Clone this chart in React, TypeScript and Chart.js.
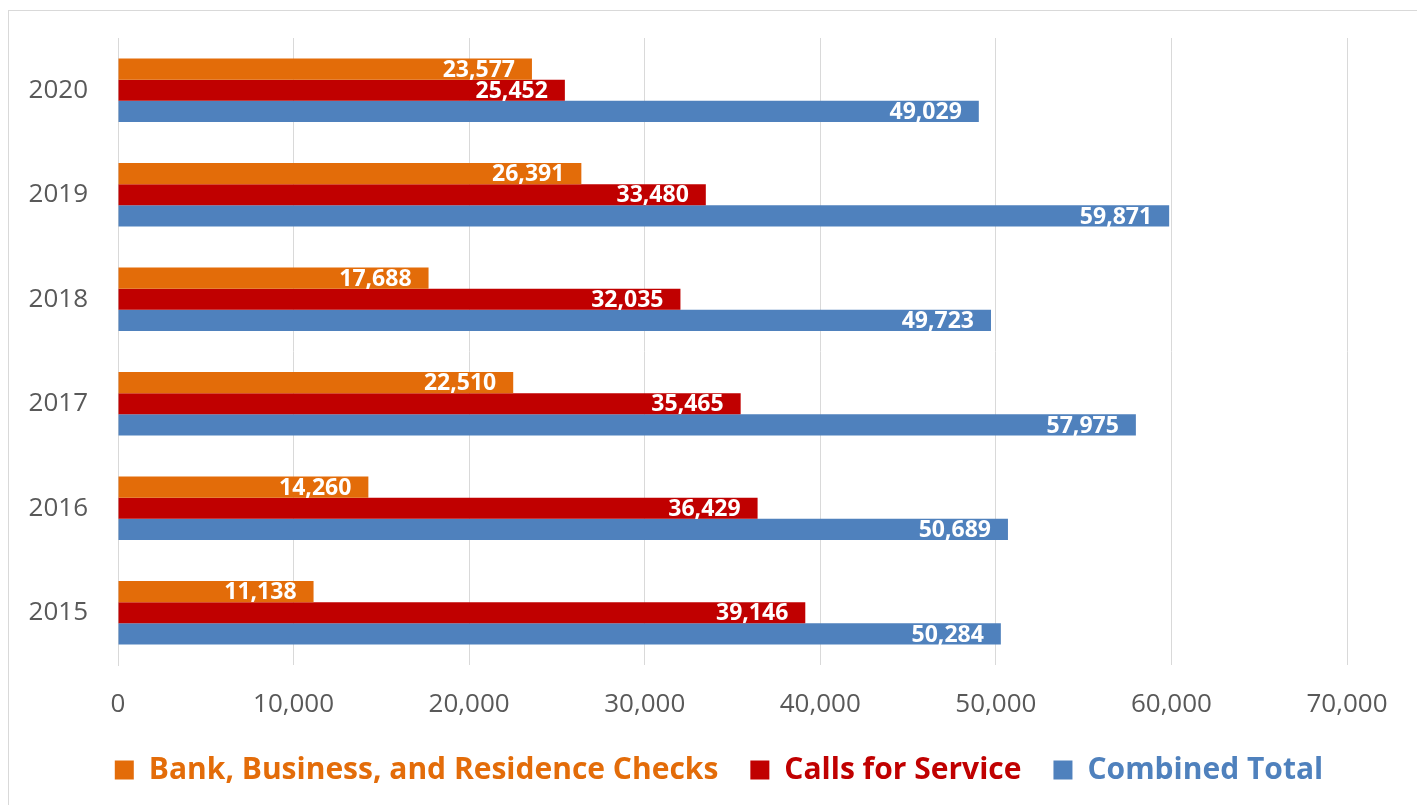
import React, { useEffect, useRef } from "react";
import { Chart, registerables } from "chart.js";

Chart.register(...registerables);

const years = ["2020", "2019", "2018", "2017", "2016", "2015"];
const bankChecks = [23577, 26391, 17688, 22510, 14260, 11138];
const callsForService = [25452, 33480, 32035, 35465, 36429, 39146];
const combinedTotal = [49029, 59871, 49723, 57975, 50689, 50284];
const seriesNames = ["Bank, Business, and Residence Checks", "Calls for Service", "Combined Total"];
const seriesColors = ["#E36C09", "#C00000", "#4F81BD"];
const xTicks = [0, 10000, 20000, 30000, 40000, 50000, 60000, 70000];

const FONT = "'Open Sans', 'Noto Sans', sans-serif";
const fmt = (v: number) => v.toLocaleString("en-US");

const labelPlugin = {
  id: "insideEndLabels",
  afterDatasetsDraw(chart: any) {
    const ctx = chart.ctx;
    ctx.save();
    ctx.font = `bold 23px ${FONT}`;
    ctx.fillStyle = "#FFFFFF";
    ctx.textAlign = "right";
    ctx.textBaseline = "middle";
    chart.data.datasets.forEach((ds: any, di: number) => {
      const meta = chart.getDatasetMeta(di);
      meta.data.forEach((el: any, i: number) => {
        ctx.fillText(fmt(ds.data[i]), el.x - 17, el.y + 1);
      });
    });
    ctx.restore();
  },
};

export default function App() {
  const ref = useRef<HTMLCanvasElement>(null);
  useEffect(() => {
    if (!ref.current) return;
    const chart = new Chart(ref.current, {
      type: "bar",
      data: {
        labels: years,
        datasets: [bankChecks, callsForService, combinedTotal].map((d, i) => ({
          label: seriesNames[i],
          data: d,
          backgroundColor: seriesColors[i],
          borderWidth: 0,
          categoryPercentage: 0.61,
          barPercentage: 1.0,
        })),
      },
      options: {
        indexAxis: "y",
        responsive: false,
        animation: false,
        layout: { padding: { top: 27, right: 0, bottom: 36, left: 12 } },
        scales: {
          x: {
            min: 0,
            max: 70000,
            afterBuildTicks: (axis: any) => {
              axis.ticks = xTicks.map((v) => ({ value: v }));
            },
            afterFit: (axis: any) => {
              axis.height = 58;
              axis.paddingRight = 70;
              axis.paddingLeft = 0;
            },
            grid: { color: "#D9D9D9", lineWidth: 1, drawTicks: false },
            border: { display: false },
            ticks: {
              padding: 24,
              color: "#595959",
              font: { family: FONT, size: 26 },
              callback: (v: any) => fmt(Number(v)),
            },
          },
          y: {
            afterFit: (axis: any) => {
              axis.width = 97;
              axis.paddingTop = 0;
              axis.paddingBottom = 0;
            },
            grid: { display: false, drawTicks: false },
            border: { display: true, color: "#D9D9D9", width: 1 },
            ticks: {
              padding: 30,
              color: "#595959",
              font: { family: FONT, size: 26 },
            },
          },
        },
        plugins: {
          tooltip: { enabled: false },
          legend: {
            position: "bottom",
            labels: {
              boxWidth: 19,
              boxHeight: 19,
              padding: 32,
              font: { family: FONT, size: 30, weight: "bold" },
              generateLabels: (c: any) =>
                c.data.datasets.map((ds: any, i: number) => ({
                  text: ds.label,
                  fillStyle: seriesColors[i],
                  strokeStyle: seriesColors[i],
                  lineWidth: 0,
                  fontColor: seriesColors[i],
                  hidden: false,
                  datasetIndex: i,
                })),
            },
          },
        },
      },
      plugins: [labelPlugin],
    } as any);
    return () => chart.destroy();
  }, []);

  return (
    <div
      style={{
        width: 1408,
        height: 794,
        marginTop: 2,
        border: "1px solid #D9D9D9",
        borderBottom: "none",
        overflow: "hidden",
        background: "#fff",
      }}
    >
      <canvas ref={ref} width={1408} height={820} style={{ display: "block" }} />
    </div>
  );
}
